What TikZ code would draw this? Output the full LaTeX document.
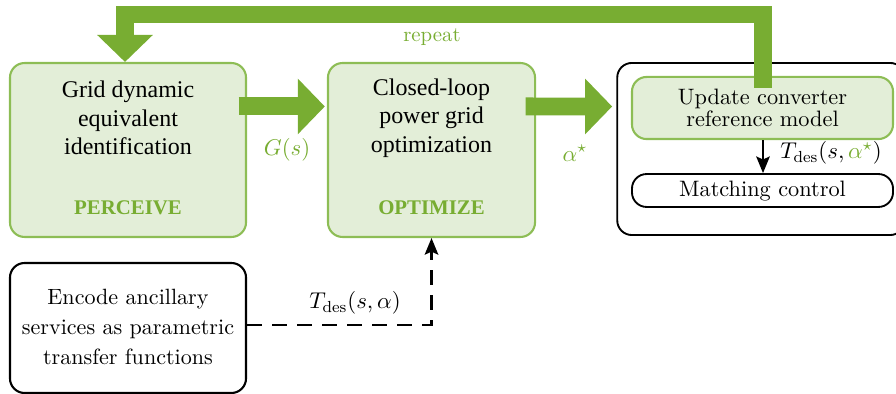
\documentclass[tikz,border=0pt]{standalone}
\usepackage{fontspec}
\usepackage{amsmath}
\usepackage{tikz}
\usetikzlibrary{arrows.meta}
\newfontfamily\tagfont{Liberation Serif}
\definecolor{leafgreen}{HTML}{78AD32}
\definecolor{leafedge}{HTML}{8DBD55}
\definecolor{leaffill}{HTML}{E3EED8}
\tikzset{
  stagebox/.style={draw=leafedge, line width=1pt, fill=leaffill, rounded corners=7pt, inner sep=0pt},
  plainbox/.style={draw, line width=0.9pt, rounded corners=7pt, inner sep=0pt},
  stagetext/.style={align=center, font=\tagfont\fontsize{11.5}{13.7}\selectfont},
  boxtext/.style={align=center, font=\fontsize{10.6}{14.4}\selectfont},
  smalltext/.style={align=center, font=\fontsize{10.7}{10.6}\selectfont},
  tagtext/.style={text=leafgreen, font=\tagfont\bfseries},
  mathlabel/.style={font=\fontsize{11}{13}\selectfont},
  bigarrow/.style={draw=leafgreen, line width=8.6pt, line join=miter, -{Triangle[width=26pt,length=13pt]}},
  thinarrow/.style={line width=1pt, -{Stealth[length=8pt,width=6.5pt,inset=1.5pt]}},
  dashline/.style={line width=1.2pt, dash pattern=on 7pt off 5pt, -{Stealth[length=8pt,width=6.5pt,inset=1.5pt]}},
}

\begin{document}
\begin{tikzpicture}[x=0.48pt,y=-0.48pt]
      \useasboundingbox (0,0) rectangle (896,394);
      % boxes
      \node[stagebox, minimum width=113.3pt, minimum height=83.5pt] (perceive) at (128,150) {};
      \node[stagebox, minimum width=99.4pt, minimum height=83.5pt] (optim) at (431.5,150) {};
      \node[plainbox, minimum width=138pt, minimum height=82.6pt] (outer) at (761,149) {};
      \node[stagebox, minimum width=125.3pt, minimum height=29.8pt] (update) at (762.5,108) {};
      \node[plainbox, minimum width=125.3pt, minimum height=15.8pt] (matching) at (762.5,190.5) {};
      \node[plainbox, line width=1pt, minimum width=113.3pt, minimum height=62.4pt] (encode) at (128,328) {};
      % texts
      \node[stagetext] (perceivetext) at (128,118) {Grid dynamic\\equivalent\\identification};
      \node[tagtext] (perceivetag) at (128,208) {PERCEIVE};
      \node[stagetext] (optimtext) at (431.5,118) {Closed-loop\\power grid\\optimization};
      \node[tagtext] (optimtag) at (431.5,208) {OPTIMIZE};
      \node[smalltext] (updatetext) at (762.5,107.5) {Update converter\\reference model};
      \node[smalltext] (matchingtext) at (762.5,191) {Matching control};
      \node[boxtext] (encodetext) at (128,327) {Encode ancillary\\services as parametric\\transfer functions};
      % arrows
      \coordinate (loopstart) at (763,88);
      \coordinate (looptop) at (125,14.5);
      \draw[bigarrow] (loopstart) |- (looptop) -- (looptop |- perceive.north);
      \draw[bigarrow] ([xshift=-4pt,yshift=20.9pt]perceive.east) -- ([xshift=-1pt,yshift=20.9pt]optim.west);
      \draw[bigarrow] ([xshift=-5pt,yshift=20.9pt]optim.east) -- ([xshift=-2pt,yshift=20.4pt]outer.west);
      \draw[thinarrow] (update.south -| loopstart) -- (matching.north -| loopstart);
      \draw[dashline] ([yshift=1.4pt]encode.east) -| (optim.south);
      % labels
      \node[text=leafgreen] (repeatlabel) at (432,37) {repeat};
      \node[mathlabel, text=leafgreen] (glabel) at (287,150) {$G(s)$};
      \node[mathlabel, text=leafgreen] (alphalabel) at (575,153) {$\alpha^\star$};
      \node[mathlabel] (tdeslabel) at (355,303) {$T_{\text{des}}(s,\alpha)$};
      \node[mathlabel] (tdesstarlabel) at (831,153) {$T_{\text{des}}(s,\textcolor{leafgreen}{\alpha^\star})$};
\end{tikzpicture}
\end{document}
